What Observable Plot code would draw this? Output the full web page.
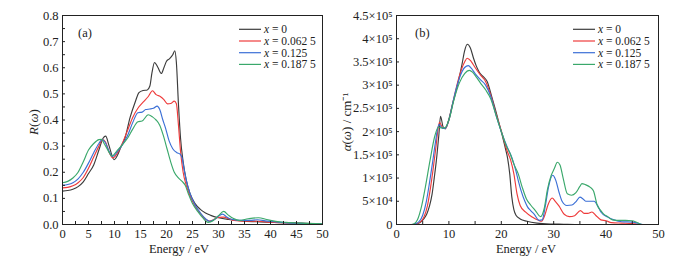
<!DOCTYPE html>
<html><head><meta charset="utf-8">
<script src="https://cdn.jsdelivr.net/npm/d3@7"></script>
<script src="https://cdn.jsdelivr.net/npm/@observablehq/plot@0.6"></script>
<style>
body{margin:0;background:#fff}
#wrap{position:relative;width:699px;height:270px;overflow:hidden}
#wrap svg{position:absolute;top:0;overflow:visible}
</style>
</head><body><div id="wrap"></div>
<script>
// ---------- series / labels ----------
const seriesNames = ["0", "0.062 5", "0.125", "0.187 5"];
const seriesColors = ["#3c3c3c", "#ee3b3b", "#3b6fd6", "#3aa86b"];

// ---------- panel (a): reflectivity R(ω) ----------
const rE0 = [0,1,2,3,4,5,6,7,7.8,8.3,8.9,9.5,9.9,10.5,11.2,12,13,14,14.7,15.5,16.3,16.8,17.2,17.7,18.3,19,19.5,20,20.6,21.2,21.6,21.9,22.3,22.7,23.2,23.8,24.5,25.5,26.5,27.5,28.5,30,32,35,38,42,46,50];
const rV0 = [0.128,0.13,0.135,0.145,0.163,0.195,0.228,0.285,0.33,0.338,0.305,0.265,0.248,0.262,0.295,0.33,0.41,0.47,0.505,0.513,0.515,0.53,0.58,0.62,0.603,0.578,0.6,0.625,0.635,0.65,0.665,0.62,0.46,0.33,0.24,0.17,0.12,0.08,0.058,0.044,0.035,0.026,0.019,0.013,0.01,0.007,0.005,0.003];

const rE1 = [0,1,2,3,4,5,6,7,7.7,8.3,9,9.7,10.5,11.5,12.5,13.5,14.5,15.5,16.5,17.3,18,18.8,19.5,20.2,20.8,21.5,21.9,22.3,22.7,23.2,23.8,24.5,25.5,26.5,27.5,28.3,29,30,31,32,33,35,37,39,42,46,50];
const rV1 = [0.14,0.142,0.148,0.16,0.18,0.215,0.258,0.3,0.325,0.315,0.275,0.255,0.272,0.31,0.36,0.41,0.445,0.468,0.49,0.512,0.497,0.49,0.478,0.462,0.463,0.472,0.462,0.38,0.28,0.2,0.15,0.11,0.07,0.042,0.02,0.013,0.018,0.027,0.028,0.022,0.016,0.013,0.013,0.01,0.007,0.004,0.003];

const rE2 = [0,1,2,3,4,5,6,7,7.6,8.2,9,9.6,10.5,11.5,12.5,13.5,14.5,15.3,16,16.8,17.5,18.2,18.7,19.3,19.8,20.5,21.2,22,22.6,23,23.4,23.8,24.5,25.5,26.5,27.5,28.3,29.3,30.2,30.8,31.5,32.5,34,36,37.5,39,42,46,50];
const rV2 = [0.15,0.153,0.16,0.175,0.2,0.235,0.275,0.31,0.325,0.315,0.278,0.26,0.278,0.305,0.34,0.39,0.428,0.43,0.44,0.442,0.445,0.453,0.44,0.4,0.37,0.32,0.29,0.275,0.27,0.255,0.21,0.17,0.12,0.075,0.045,0.022,0.012,0.02,0.035,0.04,0.03,0.02,0.016,0.016,0.018,0.014,0.008,0.004,0.003];

const rE3 = [0,1,2,3,4,5,6,7,7.5,8,8.8,9.5,10.5,11.5,12.5,13.5,14.5,15.3,16.5,17.3,18,18.7,19.4,20.1,20.8,21.5,22.2,23,23.6,24.2,25,26,27,28,29,30,31,31.9,32.9,34,35.7,37.7,39.3,41,43,46,50];
const rV3 = [0.16,0.165,0.178,0.2,0.24,0.285,0.31,0.325,0.326,0.31,0.282,0.262,0.283,0.305,0.33,0.365,0.393,0.396,0.42,0.412,0.4,0.38,0.34,0.29,0.24,0.2,0.18,0.165,0.15,0.118,0.08,0.05,0.025,0.008,0.015,0.034,0.05,0.036,0.023,0.016,0.022,0.026,0.019,0.012,0.008,0.005,0.003];

// ---------- panel (b): absorption α(ω), in units of 10^5 cm^-1 ----------
const aE0 = [0,3,3.6,4.5,5.2,5.8,6.3,6.8,7.2,7.6,8.1,8.4,8.9,9.3,10,10.6,11.2,11.8,12.5,13,13.5,14.1,14.7,15.2,15.7,16.2,16.6,17.3,18.2,19.2,20.1,20.8,21.2,21.6,22,22.4,22.8,23.6,24.9,26.8,29.4,31.9,34,50];
const aV0 = [0,0,0.005,0.04,0.12,0.23,0.4,0.66,1.0,1.37,1.95,2.33,2.1,2.06,2.27,2.55,2.8,3.08,3.45,3.74,3.88,3.8,3.58,3.42,3.3,3.22,3.18,3.08,2.74,2.34,1.95,1.63,1.43,1.1,0.6,0.32,0.2,0.12,0.07,0.03,0.01,0.005,0,0];

const aE1 = [0,3,3.7,4.5,5.2,5.9,6.5,7,7.5,8.2,8.9,9.4,10,11,12,13,13.5,14.2,15,16,17,18,19,20,21,21.8,22.4,23,23.6,24.6,25.9,27.1,27.7,28.3,28.9,29.7,30.3,31,32,33,34,35.1,35.8,36.5,37.3,38,39,40,41,43,45,46,47,50];
const aV1 = [0,0,0.01,0.05,0.15,0.4,0.8,1.2,1.65,2.2,2.07,2.08,2.25,2.75,3.2,3.5,3.58,3.52,3.38,3.22,3.08,2.78,2.38,2.02,1.62,1.38,1.09,0.66,0.41,0.27,0.16,0.09,0.07,0.2,0.42,0.57,0.5,0.4,0.22,0.17,0.19,0.3,0.24,0.24,0.27,0.2,0.1,0.08,0.04,0.03,0.02,0.005,0,0];

const aE2 = [0,3,3.5,4.3,5,5.7,6.3,6.9,7.4,8.1,8.8,9.3,10,11,12,13,13.7,14.3,15,16,17,18,19,20,21.2,21.8,22.2,22.8,23.3,23.8,24.5,25,25.6,26.3,27.2,27.8,28.4,29,29.8,30.4,31,31.6,32.5,33.5,34.3,35,35.6,36.1,37.7,38.5,39,40.3,41.5,43,45,46,47,50];
const aV2 = [0,0,0.01,0.06,0.2,0.5,0.9,1.35,1.75,2.15,2.07,2.07,2.25,2.75,3.15,3.38,3.42,3.36,3.25,3.12,3.0,2.75,2.35,2.0,1.65,1.5,1.38,1.15,0.92,0.72,0.5,0.38,0.3,0.22,0.09,0.1,0.4,0.8,1.06,0.95,0.7,0.5,0.41,0.42,0.5,0.59,0.55,0.5,0.5,0.38,0.27,0.16,0.1,0.06,0.05,0.03,0,0];

const aE3 = [0,2.8,3.3,4,4.8,5.5,6.4,7.3,8,8.6,9.2,10,11,12,13,13.9,14.5,15.2,16,17,18,19,20,21,21.6,22.4,23.2,24,24.8,25.6,26.5,27.5,28.2,28.8,29.5,30.1,30.7,31.2,31.8,32.6,33.4,34.2,35,35.4,36,37,37.6,38.3,39,39.5,40.3,41.2,42,43.7,45,45.8,46.9,50];
const aV3 = [0,0,0.01,0.1,0.4,0.8,1.38,1.9,2.1,2.08,2.08,2.25,2.7,3.05,3.25,3.32,3.28,3.18,3.05,2.9,2.7,2.35,2.0,1.68,1.55,1.3,1.1,0.8,0.55,0.42,0.3,0.17,0.35,0.75,1.05,1.2,1.34,1.28,1.0,0.66,0.63,0.68,0.82,0.88,0.86,0.8,0.72,0.42,0.3,0.23,0.17,0.1,0.09,0.09,0.08,0.05,0,0];

// tick values / labels
const xTicksA = [0,5,10,15,20,25,30,35,40,45,50];
const yTicksA = [0,0.1,0.2,0.3,0.4,0.5,0.6,0.7,0.8];
const xTicksB = [0,10,20,30,40,50];
const yTicksB = [0,0.5,1,1.5,2,2.5,3,3.5,4,4.5];
const yLabelsB = ["0","5×10⁴","1×10⁵","1.5×10⁵","2×10⁵","2.5×10⁵","3×10⁵","3.5×10⁵","4×10⁵","4.5×10⁵"];

// ---------- build tables ----------
function table(Es, Vs) {
  const rows = [];
  Es.forEach((E, k) => E.forEach((e, i) => rows.push({E: e, v: Vs[k][i], s: seriesNames[k]})));
  return rows;
}
const dataA = table([rE0, rE1, rE2, rE3], [rV0, rV1, rV2, rV3]);
const dataB = table([aE0, aE1, aE2, aE3], [aV0, aV1, aV2, aV3]);

const font = "'Liberation Serif', 'Times New Roman', serif";
const ink = "#222";

function panel({data, width, ml, mr, yDomain, xMajor, xMinor, yMajor, yMinor, yFmt}) {
  return Plot.plot({
    width, height: 270,
    marginLeft: ml, marginRight: mr, marginTop: 15, marginBottom: 46,
    style: {fontFamily: font, fontSize: "12.5px", color: ink, background: "transparent", overflow: "visible"},
    x: {domain: [0, 50], label: null},
    y: {domain: yDomain, label: null},
    color: {domain: seriesNames, range: seriesColors},
    marks: [
      Plot.line(data, {x: "E", y: "v", stroke: "s", z: "s", curve: "monotone-x", strokeWidth: 1.15}),
      Plot.frame({stroke: ink, strokeWidth: 1}),
      // inward tick marks only
      Plot.axisX(xMinor, {tickSize: -3, fill: "none", stroke: ink, label: null}),
      Plot.axisY(yMinor, {tickSize: -3, fill: "none", stroke: ink, label: null}),
      // labels only
      Plot.axisX(xMajor, {tickSize: 0, tickPadding: 5, tickFormat: d => String(d), fill: ink, label: null}),
      Plot.axisY(yMajor, {tickSize: 0, tickPadding: 4, tickFormat: yFmt, fill: ink, label: null})
    ]
  });
}

const svgA = panel({
  data: dataA, width: 340, ml: 62, mr: 18, yDomain: [0, 0.8],
  xMajor: xTicksA, xMinor: d3.range(0, 50.01, 2.5),
  yMajor: yTicksA, yMinor: d3.range(0, 0.801, 0.05),
  yFmt: d3.format(".1f")
});
const svgB = panel({
  data: dataB, width: 359, ml: 56, mr: 41, yDomain: [0, 4.5],
  xMajor: xTicksB, xMinor: d3.range(0, 50.01, 5),
  yMajor: yTicksB, yMinor: yTicksB,
  yFmt: d => yLabelsB[yTicksB.indexOf(d)]
});
svgA.style.left = "0px";
svgB.style.left = "340px";
const wrap = document.getElementById("wrap");
wrap.appendChild(svgA);
wrap.appendChild(svgB);

function decorate(svg, {tag, tagX, legX, xLabX, yLab}) {
  const g = d3.select(svg).append("g").attr("font-family", font).attr("fill", ink).attr("text-anchor", "start");
  g.append("text").attr("x", tagX).attr("y", 33).attr("dy", "0.35em").attr("font-size", 12.5).text(tag);
  seriesNames.forEach((n, i) => {
    const y = 29.3 + i * 11.7;
    g.append("line").attr("x1", legX).attr("x2", legX + 22).attr("y1", y).attr("y2", y)
      .attr("stroke", seriesColors[i]).attr("stroke-width", 1.2);
    const t = g.append("text").attr("x", legX + 25).attr("y", y).attr("dy", "0.35em").attr("font-size", 11.5);
    t.append("tspan").attr("font-style", "italic").text("x");
    t.append("tspan").text(" = " + n);
  });
  g.append("text").attr("x", xLabX).attr("y", 253).attr("text-anchor", "middle").attr("font-size", 12.5).text("Energy / eV");
  const yl = g.append("text").attr("transform", `translate(${yLab.x},${yLab.y}) rotate(-90)`)
    .attr("text-anchor", "middle").attr("dy", "0.35em").attr("font-size", 13);
  yLab.parts.forEach(([s, it]) => yl.append("tspan").attr("font-style", it ? "italic" : "normal").text(s));
}
decorate(svgA, {tag: "(a)", tagX: 78, legX: 239, xLabX: 179,
  yLab: {x: 33, y: 122, parts: [["R", true], ["(", false], ["ω", true], [")", false]]}});
decorate(svgB, {tag: "(b)", tagX: 75, legX: 233, xLabX: 186,
  yLab: {x: 6, y: 122, parts: [["α", true], ["(", false], ["ω", true], [") / cm⁻¹", false]]}});
</script></body></html>
